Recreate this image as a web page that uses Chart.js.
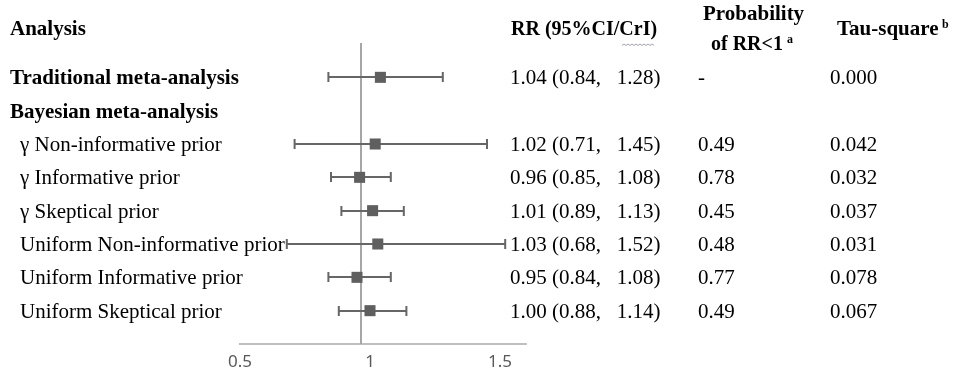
<!DOCTYPE html>
<html>
<head>
<meta charset="utf-8">
<script src="https://cdn.jsdelivr.net/npm/chart.js@4/dist/chart.umd.min.js"></script>
<style>
  body { margin: 0; background: #fff; }
  canvas { display: block; }
</style>
</head>
<body>
<canvas id="forest" width="957" height="380"></canvas>
<script>
'use strict';

// 行ラベル
const analyses = [
    'Traditional meta-analysis',
    'Bayesian meta-analysis',
    'γ Non-informative prior',
    'γ Informative prior',
    'γ Skeptical prior',
    'Uniform Non-informative prior',
    'Uniform Informative prior',
    'Uniform Skeptical prior'
];
const isHeading = [true, true, false, false, false, false, false, false];

// RR と 95%CI/CrI
const rr    = [1.04, null, 1.02, 0.96, 1.01, 1.03, 0.95, 1.00];
const lower = [0.84, null, 0.71, 0.85, 0.89, 0.68, 0.84, 0.88];
const upper = [1.28, null, 1.45, 1.08, 1.13, 1.52, 1.08, 1.14];

// 表の列
const rrText  = ['1.04 (0.84,   1.28)', '', '1.02 (0.71,   1.45)', '0.96 (0.85,   1.08)',
                 '1.01 (0.89,   1.13)', '1.03 (0.68,   1.52)', '0.95 (0.84,   1.08)', '1.00 (0.88,   1.14)'];
const probRR  = ['-', '', '0.49', '0.78', '0.45', '0.48', '0.77', '0.49'];
const tauSq   = ['0.000', '', '0.042', '0.032', '0.037', '0.031', '0.078', '0.067'];

// x軸
const xTicks = [0.5, 1, 1.5];
const xMin = 0.5, xMax = 1.6;
const refValue = 0.965; // 元図の縦線は 1 より少し左

const serif = '"Liberation Serif", "Times New Roman", serif';

// エラーバーと縦線、表
const forestPlugin = {
    id: 'forest',
    beforeDatasetsDraw(chart) {
        const ctx = chart.ctx;
        const xs = chart.scales.x, ys = chart.scales.y;
        ctx.save();
        // 縦線
        ctx.strokeStyle = '#a6a6a6';
        ctx.lineWidth = 2;
        ctx.beginPath();
        const rx = Math.round(xs.getPixelForValue(refValue));
        ctx.moveTo(rx, ys.getPixelForValue(-1) - 1);
        ctx.lineTo(rx, ys.getPixelForValue(8));
        ctx.stroke();
        // CI
        ctx.strokeStyle = '#666666';
        ctx.lineWidth = 2;
        for (let i = 0; i < rr.length; i++) {
            if (rr[i] == null) continue;
            const y = Math.round(ys.getPixelForValue(i));
            const x1 = xs.getPixelForValue(lower[i]);
            const x2 = xs.getPixelForValue(upper[i]);
            ctx.beginPath();
            ctx.moveTo(x1, y); ctx.lineTo(x2, y);
            ctx.moveTo(x1, y - 5); ctx.lineTo(x1, y + 5);
            ctx.moveTo(x2, y - 5); ctx.lineTo(x2, y + 5);
            ctx.stroke();
        }
        ctx.restore();
    },
    afterDraw(chart) {
        const ctx = chart.ctx;
        const ys = chart.scales.y;
        ctx.save();
        ctx.fillStyle = '#000';
        ctx.textBaseline = 'middle';
        ctx.textAlign = 'left';

        // 見出し
        ctx.font = 'bold 21px ' + serif;
        ctx.fillText('Analysis', 10, 30);
        ctx.font = 'bold 20px ' + serif;
        ctx.fillText('RR (95%CI/CrI)', 511, 30);
        ctx.font = 'bold 21px ' + serif;
        ctx.fillText('Probability', 703, 15);
        ctx.font = 'bold 20px ' + serif;
        ctx.fillText('of RR<1', 711, 45);
        ctx.font = 'bold 21px ' + serif;
        ctx.fillText('Tau-square', 837, 30);
        ctx.font = 'bold 12px ' + serif;
        ctx.fillText('a', 787, 40);
        ctx.fillText('b', 942, 25);

        // 波線 (CrI)
        ctx.strokeStyle = '#a0a4b8';
        ctx.lineWidth = 1;
        ctx.beginPath();
        for (let x = 622; x <= 655; x += 2) {
            const yy = 44 + ((x / 2) % 2 === 0 ? 0 : 1.5);
            if (x === 622) ctx.moveTo(x, yy); else ctx.lineTo(x, yy);
        }
        ctx.stroke();

        // 行
        for (let i = 0; i < analyses.length; i++) {
            const y = ys.getPixelForValue(i) + 1.5;
            ctx.font = (isHeading[i] ? 'bold ' : '') + '21px ' + serif;
            ctx.fillText(analyses[i], isHeading[i] ? 10 : 20, y);
            ctx.font = '21px ' + serif;
            if (rrText[i]) ctx.fillText(rrText[i], 510, y);
            if (probRR[i]) ctx.fillText(probRR[i], 698, y);
            if (tauSq[i]) ctx.fillText(tauSq[i], 830, y);
        }
        ctx.restore();
    }
};

const points = [];
for (let i = 0; i < rr.length; i++) {
    if (rr[i] != null) points.push({ x: rr[i], y: i });
}

new Chart(document.getElementById('forest'), {
    type: 'scatter',
    data: {
        datasets: [{
            data: points,
            pointStyle: 'rect',
            pointRadius: 7.8,
            pointHoverRadius: 7.8,
            backgroundColor: '#5f5f5f',
            borderColor: '#5f5f5f',
            borderWidth: 0
        }]
    },
    plugins: [forestPlugin],
    options: {
        responsive: false,
        devicePixelRatio: 1,
        animation: false,
        layout: { padding: { left: 240, right: 431, top: 44, bottom: 8 } },
        plugins: {
            legend: { display: false },
            tooltip: { enabled: false }
        },
        scales: {
            x: {
                type: 'linear',
                min: xMin,
                max: xMax,
                afterBuildTicks(axis) {
                    axis.ticks = xTicks.map(v => ({ value: v }));
                },
                afterFit(axis) {
                    axis.height = 28;
                },
                grid: { display: false, drawTicks: false },
                border: { display: true, color: '#bfbfbf', width: 2 },
                ticks: {
                    padding: 8,
                    color: '#595959',
                    font: { family: '"Noto Sans", sans-serif', size: 17 },
                    callback: v => String(v)
                }
            },
            y: {
                type: 'linear',
                min: -1,
                max: 8,
                reverse: true,
                display: false
            }
        }
    }
});
</script>
</body>
</html>
